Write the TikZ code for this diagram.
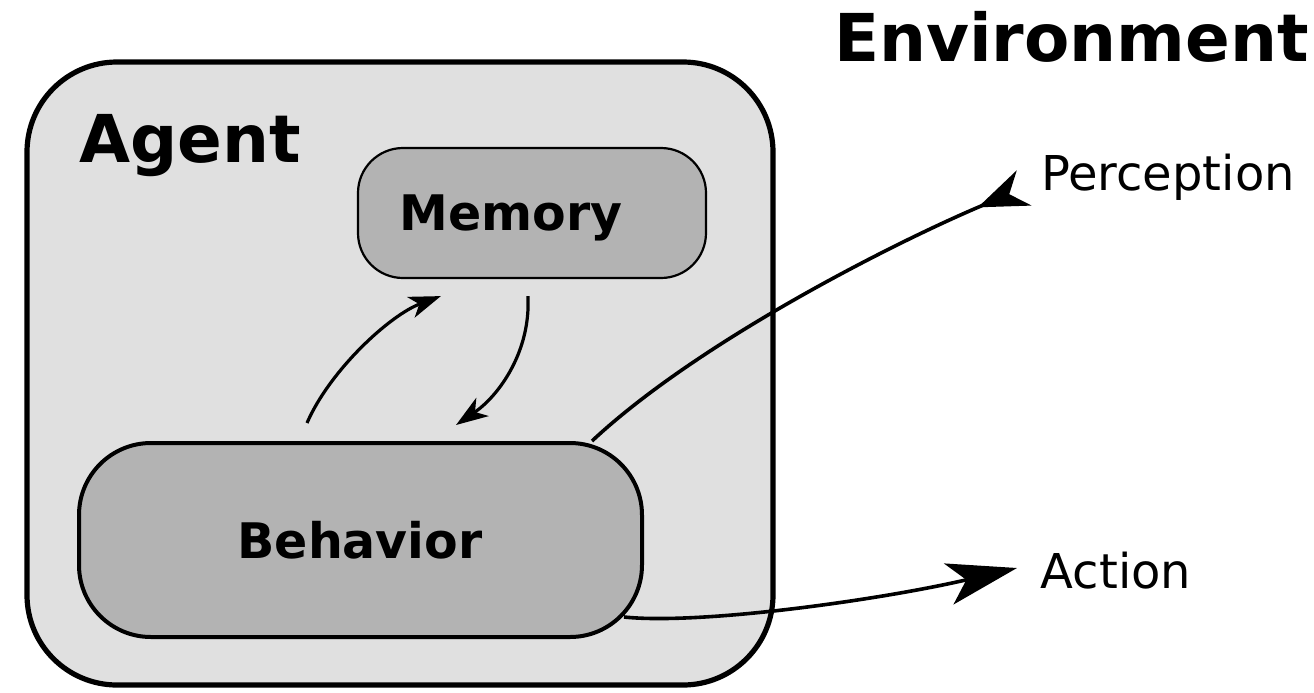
\documentclass[tikz,border=0pt]{standalone}
\usepackage{fontspec}
\setmainfont{DejaVu Sans}
\usetikzlibrary{arrows.meta}
\definecolor{agentgray}{HTML}{E0E0E0}
\definecolor{partgray}{HTML}{B3B3B3}

\begin{document}
\begin{tikzpicture}[x=0.5pt,y=-0.5pt,
  container/.style={draw, fill=agentgray, line width=2.6pt, rounded corners=45pt,
    minimum width=373pt, minimum height=311.5pt, inner sep=0pt},
  part/.style={draw, fill=partgray, inner sep=0pt},
  title/.style={font=\fontsize{33}{40}\selectfont\bfseries, anchor=base, inner sep=0pt},
  partlabel/.style={font=\fontsize{24.5}{30}\selectfont\bfseries, anchor=base, inner sep=0pt},
  signal/.style={font=\fontsize{24}{30}\selectfont, anchor=base, inner sep=0pt},
  flow/.style={line width=1.8pt},
  inner flow/.style={line width=1.6pt, -{Stealth[length=16pt, width=11pt, inset=4.5pt]}},
]
\useasboundingbox (0,0) rectangle (1314,692);

% the agent and its two parts
\node[container] (agent) at (400,373.5) {};
\node[part, line width=1.1pt, rounded corners=22.5pt,
      minimum width=174pt, minimum height=65pt] (memory) at (532,213) {};
\node[part, line width=2pt, rounded corners=36pt,
      minimum width=281.5pt, minimum height=97pt] (behavior) at (360.5,540) {};

% labels
\node[title] (agentlabel) at (190,162) {Agent};
\node[title] (envlabel) at (1071.5,61) {Environment};
\node[partlabel] (memorylabel) at (511,230) {Memory};
\node[partlabel] (behaviorlabel) at (360,558) {Behavior};
\node[signal] (perception) at (1168,190) {Perception};
\node[signal] (action) at (1116,588) {Action};

% free ends of the outside connectors
\coordinate (perceptionend) at (1024,188);
\coordinate (actionend) at (1017,568);

% behavior <-> memory
\draw[inner flow] ([shift={(230,-18)}]behavior.north west)
  .. controls (330,370) and (390,315) .. ([shift={(84,17)}]memory.south west);
\draw[inner flow] ([shift={(171,17)}]memory.south west)
  .. controls (531,350) and (500,395) .. ([shift={(379,-16)}]behavior.north west);

% perception enters, action leaves
\draw[flow, -{Stealth[length=25pt, width=19pt, inset=8pt, reversed]}]
  ([xshift=-26pt]behavior.north east)
  .. controls (700,340) and (900,240) .. (perceptionend);
\draw[flow, -{Stealth[length=35pt, width=21pt, inset=9pt]}]
  ([shift={(-20,-22)}]behavior.south east)
  .. controls (700,625) and (880,600) .. (actionend);
\end{tikzpicture}
\end{document}
